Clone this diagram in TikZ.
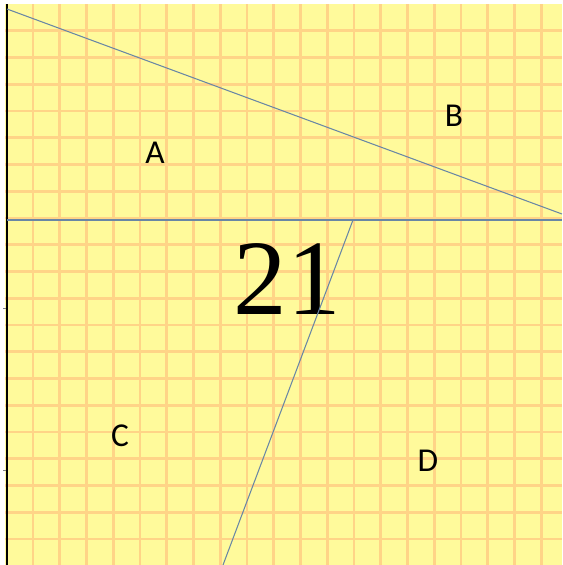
\documentclass[tikz,border=0pt]{standalone}
\usepackage{fontspec}
\setmainfont{Liberation Serif}
\newfontfamily\labelfont{Carlito}
\usepackage{tikz}
\usetikzlibrary{calc}
\definecolor{paper}{RGB}{255,250,155}
\definecolor{gridline}{RGB}{255,212,135}
\definecolor{cutline}{RGB}{105,135,165}
\tikzstyle{region}=[font=\labelfont\fontsize{19}{22}\selectfont,inner sep=0pt]
\tikzstyle{cut}=[draw=cutline,line width=0.6pt]

\begin{document}
\begin{tikzpicture}[x=0.02cm,y=-0.02cm]
\useasboundingbox (0,0) rectangle (562,565);
\fill[paper] (5,4) rectangle (562,565);
% grid
\foreach \k in {1,...,20} {
  \pgfmathsetmacro\gx{6.3+26.75*\k}
  \pgfmathsetmacro\gy{4+26.75*\k}
  \draw[gridline,line width=1.6pt] (\gx,4) -- (\gx,565);
  \draw[gridline,line width=1.6pt] (5,\gy) -- (562,\gy);
}
\draw[black,line width=1.3pt] (7,4) -- (7,565);
\draw[gray,line width=0.4pt] (3,308) -- (6,308);
\draw[gray,line width=0.4pt] (3,470) -- (6,470);

% cut lines
\coordinate (tl) at (7,9);
\coordinate (tr) at (562,214);
\coordinate (ml) at (7,220);
\coordinate (mr) at (562,220);
\coordinate (mt) at (353,220);
\coordinate (mb) at (223,565);
\draw[cut] (tl) -- (tr);
\draw[cut] (ml) -- (mr);

\node (num) at (287,279) {\fontsize{61}{61}\selectfont 21};
\draw[cut] (mt) -- (mb);

\node [region] (a) at (155,153) {A};
\node [region] (b) at (454,116) {B};
\node [region] (c) at (120,436) {C};
\node [region] (d) at (428,461) {D};
\end{tikzpicture}
\end{document}
